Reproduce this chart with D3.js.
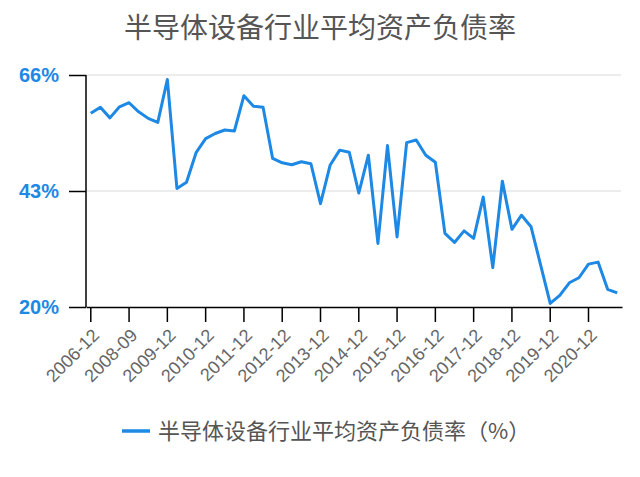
<!DOCTYPE html>
<html><head><meta charset="utf-8">
<script src="https://cdn.jsdelivr.net/npm/d3@7"></script>
<style>body{margin:0;background:#fff;}svg{display:block;}</style>
</head><body><svg id="c" width="640" height="477"></svg>
<script>
const title = "半导体设备行业平均资产负债率";
const seriesName = "半导体设备行业平均资产负债率（%）";
const categories = [
 "2006-12","2007-06","2007-12","2008-06","2008-09","2008-12","2009-06","2009-09",
 "2009-12","2010-03","2010-06","2010-09","2010-12","2011-03","2011-06","2011-09",
 "2011-12","2012-03","2012-06","2012-09","2012-12","2013-03","2013-06","2013-09",
 "2013-12","2014-03","2014-06","2014-09","2014-12","2015-03","2015-06","2015-09",
 "2015-12","2016-03","2016-06","2016-09","2016-12","2017-03","2017-06","2017-09",
 "2017-12","2018-03","2018-06","2018-09","2018-12","2019-03","2019-06","2019-09",
 "2019-12","2020-03","2020-06","2020-09","2020-12","2021-03","2021-06","2021-09"];
const values = [
 58.4,59.6,57.5,59.7,60.5,58.7,57.4,56.6,
 65.1,43.5,44.75,50.6,53.4,54.4,55.1,54.9,
 61.9,59.8,59.6,49.45,48.6,48.2,48.8,48.4,
 40.5,48.1,51.1,50.7,42.6,50.1,32.6,52.0,
 33.9,52.6,53.1,50.1,48.7,34.6,32.8,35.1,
 33.6,41.8,27.8,44.95,35.4,38.2,35.9,28.3,
 20.7,22.3,24.8,25.8,28.5,28.9,23.5,22.8];
const yTicks = [20,43,66];
const xTickLabels = ["2006-12","2008-09","2009-12","2010-12","2011-12","2012-12","2013-12",
 "2014-12","2015-12","2016-12","2017-12","2018-12","2019-12","2020-12"];

const blue = "#1E88E5";
const svg = d3.select("#c");
const L = 86, R = 622, T = 75, B = 307;
const x = d3.scaleBand().domain(categories).range([L, R]).padding(0);
const y = d3.scaleLinear().domain([20,66]).range([B, T]);
const cx = d => x(d) + x.bandwidth()/2;

// title
svg.append("text").attr("x", 320).attr("y", 38).attr("text-anchor","middle")
  .attr("font-family","'Noto Sans CJK SC'").attr("font-size",28).attr("fill","#555")
  .text(title);

// grid
svg.append("g").selectAll("line").data(yTicks.filter(v=>v!==20)).join("line")
  .attr("x1", L).attr("x2", R-1).attr("y1", d=>y(d)).attr("y2", d=>y(d))
  .attr("stroke","#e6e6e6").attr("stroke-width",1.5);

// y axis
const ya = svg.append("g").attr("transform",`translate(${L},0)`)
  .call(d3.axisLeft(y).tickValues(yTicks).tickSize(17).tickPadding(10).tickFormat(d=>d+"%"));
ya.select(".domain").attr("stroke","#000").attr("stroke-width",1.5).attr("d",`M0,${T}V${B}`);
ya.selectAll(".tick line").attr("stroke","#000").attr("stroke-width",1.5);
ya.selectAll(".tick text").attr("fill",blue).attr("font-family","'Liberation Sans'")
  .attr("font-weight","bold").attr("font-size",20);

// x axis
const xa = svg.append("g").attr("transform",`translate(0,${B})`)
  .call(d3.axisBottom(x).tickValues(xTickLabels).tickSize(15).tickSizeOuter(0));
xa.select(".domain").attr("stroke","#000").attr("stroke-width",1.5);
xa.selectAll(".tick line").attr("stroke","#000").attr("stroke-width",1.5);
xa.selectAll(".tick text").attr("fill","#666").attr("font-family","'Liberation Sans'")
  .attr("font-size",18).attr("text-anchor","end")
  .attr("transform","translate(5,25) rotate(-45)").attr("y",0).attr("dy","0.35em");

// line
svg.append("path").datum(values.map((v,i)=>[categories[i],v]))
  .attr("fill","none").attr("stroke",blue).attr("stroke-width",3)
  .attr("stroke-linejoin","round")
  .attr("d", d3.line().x(d=>cx(d[0])).y(d=>y(d[1])));

// legend
svg.append("line").attr("x1",122).attr("x2",150).attr("y1",431).attr("y2",431)
  .attr("stroke",blue).attr("stroke-width",3.5);
svg.append("text").attr("x",158).attr("y",439)
  .attr("font-family","'Noto Sans CJK SC'").attr("font-size",22).attr("fill","#555")
  .text(seriesName);
</script></body></html>
